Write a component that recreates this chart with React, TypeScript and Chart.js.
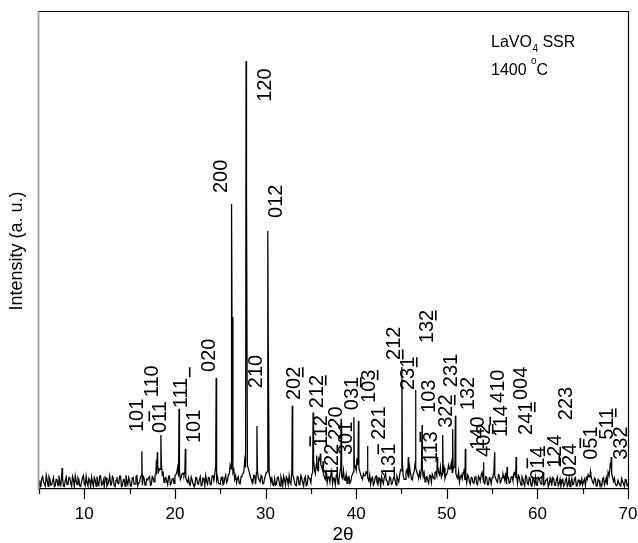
import React, { useEffect, useRef } from 'react';
import { Chart, registerables } from 'chart.js';

Chart.register(...registerables);

// background intensity at 5.0, 5.2, ... 70.0
const noiseStart = 5;
const noiseStep = 0.2;
const noise = [
  1.8, 0.5, 2.6, 1.0, 2.9, 0.6, 2.1, 0.9, 2.4, 0.7,
  1.9, 2.8, 0.8, 2.2, 0.5, 2.5, 1.0, 2.3, 0.6, 1.9,
  2.8, 0.9, 2.0, 0.5, 2.4, 1.1, 2.7, 0.7, 1.8, 2.5,
  0.6, 1.9, 2.6, 0.8, 2.8, 1.0, 0.5, 2.3, 1.0, 2.8,
  0.9, 2.2, 0.5, 2.5, 1.1, 2.7, 0.7, 2.0, 2.9, 0.9,
  1.8, 0.6, 2.4, 1.0, 2.8, 1.3, 2.5, 0.8, 2.2, 1.1,
  1.9, 2.6, 0.9, 2.3, 2.8, 3.1, 3.6, 4.1, 3.0, 1.4,
  2.4, 0.9, 2.7, 1.2, 2.2, 2.8, 3.4, 2.6, 2.0, 3.2,
  2.9, 2.2, 1.4, 0.9, 2.5, 1.1, 0.7, 2.3, 1.0, 2.6,
  0.8, 2.1, 2.8, 1.0, 2.3, 0.9, 2.9, 3.2, 1.8, 1.2,
  1.0, 2.5, 1.1, 2.9, 1.7, 3.1, 4.2, 3.4, 2.0, 1.3,
  2.6, 1.1, 3.0, 3.5, 4.5, 5.0, 3.6, 2.1, 1.3, 2.8,
  3.4, 2.3, 1.5, 2.4, 1.2, 2.9, 3.6, 3.2, 1.4, 0.9,
  2.2, 0.9, 2.5, 0.6, 1.9, 2.7, 0.8, 2.1, 2.8, 1.0,
  3.0, 1.4, 0.7, 2.5, 1.1, 2.2, 0.6, 2.6, 0.9, 2.3,
  1.3, 3.5, 4.0, 5.2, 3.8, 6.0, 4.6, 3.1, 2.0, 1.3,
  2.5, 3.0, 1.1, 2.2, 2.8, 1.0, 3.4, 2.6, 3.9, 1.8,
  1.2, 2.6, 1.5, 3.1, 4.5, 3.9, 5.0, 3.7, 2.4, 3.2,
  2.8, 3.5, 1.7, 1.0, 2.5, 1.3, 2.7, 0.9, 2.2, 2.6,
  1.1, 2.9, 1.8, 0.9, 2.3, 1.2, 2.7, 0.8, 2.1, 2.9,
  3.8, 2.7, 2.0, 4.0, 2.4, 3.3, 1.9, 3.6, 4.4, 3.0,
  3.5, 4.2, 2.6, 1.5, 2.6, 1.2, 2.8, 3.1, 2.1, 3.6,
  4.8, 3.0, 2.5, 3.6, 2.2, 3.1, 5.0, 4.2, 3.5, 4.6,
  3.3, 2.2, 1.4, 2.9, 3.4, 1.9, 1.3, 2.6, 1.0, 2.3,
  1.2, 2.6, 0.9, 2.3, 3.0, 2.2, 1.1, 2.4, 0.9, 2.2,
  2.4, 3.5, 2.2, 1.4, 2.8, 1.6, 3.2, 1.8, 1.0, 2.4,
  1.4, 2.6, 3.3, 2.3, 1.2, 2.5, 0.8, 2.1, 0.7, 2.6,
  0.9, 2.2, 0.6, 1.9, 2.5, 0.8, 2.1, 1.0, 2.7, 0.9,
  1.9, 0.5, 2.3, 1.0, 2.1, 0.7, 2.5, 1.1, 0.6, 2.0,
  0.9, 2.3, 1.0, 0.5, 2.2, 1.0, 2.4, 0.7, 1.9, 1.1,
  0.8, 2.1, 2.4, 3.0, 2.5, 2.0, 1.1, 2.1, 0.7, 1.8,
  1.0, 2.2, 0.9, 2.4, 3.5, 4.0, 3.2, 1.6, 1.1, 0.8,
  1.8, 0.6, 1.6, 0.5, 1.9, 1.0,
];

// intensity at the in-between angles 5.1, 5.3, ... 69.9
const noiseMidStart = 5.1;
const noiseMid = [
  0.4, 2.2, 1.5, 0.6, 1.9, 2.6, 0.8, 1.6, 0.5, 2.0,
  0.7, 1.3, 2.7, 0.6, 1.8, 0.9, 2.4, 1.2, 2.6, 0.5,
  1.7, 2.4, 0.6, 1.5, 2.8, 0.7, 1.3, 2.2, 0.5, 1.4,
  2.4, 0.6, 1.2, 2.7, 0.8, 1.9, 2.5, 0.6, 1.7, 0.8,
  2.6, 0.7, 1.8, 1.2, 2.7, 0.5, 1.9, 0.6, 1.5, 2.4,
  0.6, 2.3, 1.0, 2.6, 0.7, 1.5, 2.9, 2.6, 0.8, 2.1,
  2.4, 0.8, 2.6, 1.5, 3.0, 5.0, 4.2, 5.5, 3.4, 2.2,
  1.6, 2.7, 0.9, 2.1, 1.2, 3.0, 4.5, 3.8, 2.5, 3.3,
  3.8, 1.7, 2.3, 0.8, 1.9, 0.6, 2.4, 1.1, 2.0, 0.7,
  2.3, 0.7, 1.6, 2.4, 0.9, 2.7, 1.8, 4.8, 2.6, 1.1,
  2.4, 0.9, 2.2, 1.3, 3.0, 5.0, 36.0, 4.0, 2.8, 2.2,
  1.2, 2.6, 3.2, 6.0, 62.0, 4.2, 2.8, 1.5, 2.9, 1.0,
  4.0, 1.9, 2.8, 1.1, 2.2, 3.5, 30.0, 2.4, 2.2, 0.7,
  0.8, 2.4, 1.5, 2.6, 0.7, 1.9, 2.5, 0.9, 1.3, 3.8,
  2.4, 0.8, 2.6, 0.9, 2.8, 1.3, 2.2, 0.7, 2.7, 2.1,
  3.0, 6.0, 3.2, 4.4, 6.5, 5.1, 3.9, 2.5, 3.3, 2.6,
  1.4, 3.8, 2.3, 0.9, 3.1, 2.0, 4.5, 2.2, 1.9, 3.0,
  2.5, 1.2, 2.7, 3.6, 4.8, 6.5, 4.4, 3.0, 2.0, 2.8,
  3.6, 2.4, 2.9, 2.2, 0.8, 2.4, 1.4, 2.3, 0.6, 1.7,
  2.4, 1.9, 0.8, 2.5, 1.0, 2.2, 1.8, 2.7, 1.5, 4.0,
  5.5, 2.0, 3.6, 3.1, 4.6, 2.1, 3.2, 5.2, 3.5, 2.2,
  2.6, 4.5, 3.4, 2.4, 1.8, 2.9, 1.4, 2.6, 3.5, 2.8,
  3.5, 4.6, 3.3, 4.4, 2.9, 3.8, 4.2, 5.5, 4.1, 5.2,
  2.6, 3.7, 2.5, 2.1, 4.2, 2.6, 3.0, 1.5, 2.4, 1.3,
  2.5, 1.1, 2.7, 1.6, 3.5, 1.4, 2.6, 0.9, 2.4, 1.1,
  2.8, 2.7, 1.7, 3.0, 1.3, 2.4, 2.6, 3.4, 2.3, 1.2,
  2.5, 1.7, 3.5, 2.8, 2.9, 1.4, 2.6, 1.3, 2.8, 1.1,
  2.4, 0.7, 2.3, 1.0, 0.8, 2.4, 1.6, 2.6, 0.8, 1.8,
  2.2, 1.0, 1.5, 2.4, 0.8, 2.0, 0.7, 2.1, 1.5, 0.6,
  1.9, 0.6, 2.3, 1.5, 0.9, 2.2, 0.6, 1.8, 0.8, 2.1,
  1.6, 0.7, 2.0, 2.6, 2.9, 1.4, 2.3, 0.6, 2.0, 0.9,
  0.6, 2.4, 1.6, 0.8, 2.9, 4.5, 2.4, 2.3, 0.7, 1.8,
  0.8, 2.2, 1.1, 2.0, 0.7,
];

// diffraction peak maxima (2θ, intensity)
const peakTheta = [
  7.55, 16.35, 17.95, 18.05, 18.45, 20.45, 21.15, 24.55, 26.25, 27.85,
  29.05, 30.25, 32.95, 35.25, 35.65, 35.85, 36.05, 36.35, 38.35, 39.75,
  40.25, 41.25, 43.25, 45.05, 45.75, 46.55, 47.28, 48.95, 49.55, 50.65,
  50.95, 52.05, 54.05, 55.28, 56.65, 57.65, 60.65, 65.85, 68.05, 68.15,
];
const peakHeight = [
  4.4, 7.9, 6.0, 7.7, 11.3, 16.8, 8.4, 23.2, 59.6, 89.5,
  13.2, 54.0, 17.4, 16.0, 7.0, 6.2, 7.4, 5.8, 13.8, 15.0,
  14.2, 9.0, 3.5, 25.5, 6.7, 20.7, 13.4, 6.7, 11.3, 12.5,
  15.3, 8.4, 5.6, 7.7, 4.6, 6.7, 3.5, 3.6, 5.5, 6.7,
];

const xMin = 5;
const xMax = 70;
const xTickStep = 5;

// Miller index labels: text, 2θ of label centre, intensity where the text starts
const labelText = [
  '101', '110', '011', '111', '101', '020', '200', '210', '120', '012',
  '202', '212', '112', '122', '220', '301', '031', '103', '221', '131',
  '212', '231', '132', '103', '113', '322', '231', '132', '140', '402',
  '410', '114', '004', '241', '014', '124', '024', '223', '051', '511',
  '332',
];
const labelTheta = [
  15.71, 17.36, 18.25, 20.56, 22.0, 23.65, 24.98, 28.84, 29.83, 31.05,
  33.04, 35.57, 36.0, 37.2, 37.6, 38.77, 39.44, 41.3, 42.4, 43.52,
  44.07, 45.62, 47.72, 47.94, 48.16, 49.81, 50.3, 52.24, 53.34, 54.0,
  55.55, 55.88, 58.09, 58.64, 59.97, 61.84, 63.5, 63.06, 65.82, 67.58,
  69.13,
];
const labelBase = [
  11.9, 19.2, 11.7, 16.9, 9.6, 24.5, 61.9, 21.1, 81.0, 56.7,
  18.6, 16.9, 8.8, 2.5, 10.3, 7.1, 16.5, 18.0, 10.3, 2.5,
  27.0, 20.7, 30.5, 15.9, 5.4, 12.8, 21.3, 16.5, 8.2, 6.7,
  18.0, 10.9, 18.6, 11.3, 1.9, 4.4, 2.5, 14.4, 6.1, 10.3,
  6.1,
];
// bar over/under one digit: index of digit (-1 none), 'o' overline, 'u' underline
const labelBarIdx = [
  -1, -1, 1, 3, -1, -1, -1, -1, -1, -1,
  2, 2, 0, -1, -1, -1, 2, 2, -1, 2,
  0, 2, 2, -1, 2, 2, -1, -1, -1, 2,
  -1, 1, -1, 2, 1, 1, 1, -1, 1, 2,
  -1,
];
const labelBarType = [
  '', '', 'o', 'u', '', '', '', '', '', '',
  'u', 'u', 'o', '', '', '', 'u', 'u', '', 'o',
  'u', 'u', 'u', '', 'o', 'u', '', '', '', 'u',
  '', 'o', '', 'u', 'o', 'o', 'o', '', 'o', 'u',
  '',
];

const FONT = '"Liberation Sans", Arial, sans-serif';

const framePlugin = {
  id: 'frame',
  afterDraw(chart: any) {
    const { ctx, chartArea: a, scales } = chart;
    const x = scales.x;
    const y = scales.y;
    ctx.save();
    // left axis (grey)
    ctx.strokeStyle = '#a8a8a8';
    ctx.lineWidth = 2;
    ctx.beginPath();
    ctx.moveTo(a.left - 0.5, a.top);
    ctx.lineTo(a.left - 0.5, a.bottom);
    ctx.stroke();
    // top and right border
    ctx.strokeStyle = '#000';
    ctx.lineWidth = 1.2;
    ctx.beginPath();
    ctx.moveTo(a.left, a.top + 0.5);
    ctx.lineTo(a.right + 0.5, a.top + 0.5);
    ctx.lineTo(a.right + 0.5, a.bottom);
    ctx.stroke();
    // tick marks
    ctx.lineWidth = 1.2;
    for (let v = xMin; v <= xMax + 1e-9; v += xTickStep) {
      const px = Math.round(x.getPixelForValue(v)) + 0.5;
      const len = v % 10 === 0 ? 10 : 5;
      ctx.beginPath();
      ctx.moveTo(px, a.bottom);
      ctx.lineTo(px, a.bottom + len);
      ctx.stroke();
    }
    // peak labels
    ctx.fillStyle = '#000';
    ctx.font = '20px ' + FONT;
    ctx.textAlign = 'left';
    ctx.textBaseline = 'alphabetic';
    for (let i = 0; i < labelText.length; i++) {
      const t = labelText[i];
      const cx = x.getPixelForValue(labelTheta[i]);
      const by = y.getPixelForValue(labelBase[i]);
      ctx.save();
      ctx.translate(cx + 7.2, by);
      ctx.rotate(-Math.PI / 2);
      ctx.fillText(t, 0, 0);
      const bi = labelBarIdx[i];
      if (bi >= 0) {
        const x0 = ctx.measureText(t.slice(0, bi)).width;
        const x1 = bi < t.length ? ctx.measureText(t.slice(0, bi + 1)).width : x0 + 11;
        const yy = labelBarType[i] === 'o' ? -17 : 2.5;
        ctx.fillRect(x0 + 0.5, yy - 0.8, x1 - x0 - 1, 1.6);
      }
      ctx.restore();
    }
    // axis titles
    ctx.font = '19px ' + FONT;
    ctx.textAlign = 'center';
    ctx.fillText('2θ', 343, 540);
    ctx.save();
    ctx.translate(22, 251);
    ctx.rotate(-Math.PI / 2);
    ctx.font = '18px ' + FONT;
    ctx.fillText('Intensity (a. u.)', 0, 0);
    ctx.restore();
    // annotation
    ctx.textAlign = 'left';
    ctx.font = '16px ' + FONT;
    let ax = 491;
    ctx.fillText('LaVO', ax, 47);
    ax += ctx.measureText('LaVO').width + 0.5;
    ctx.font = '10px ' + FONT;
    ctx.fillText('4', ax, 52);
    ax += ctx.measureText('4').width;
    ctx.font = '16px ' + FONT;
    ctx.fillText(' SSR', ax, 47);
    ax = 491;
    ctx.fillText('1400 ', ax, 75);
    ax += ctx.measureText('1400 ').width;
    ctx.font = '10px ' + FONT;
    ctx.fillText('o', ax, 64);
    ax += ctx.measureText('o').width;
    ctx.font = '16px ' + FONT;
    ctx.fillText('C', ax, 75);
    ctx.restore();
  },
};

export default function App() {
  const ref = useRef<HTMLCanvasElement>(null);
  useEffect(() => {
    const canvas = ref.current;
    if (!canvas) return;
    const pts: { x: number; y: number }[] = [];
    noise.forEach((v, i) => pts.push({ x: noiseStart + i * noiseStep, y: v }));
    noiseMid.forEach((v, i) => pts.push({ x: noiseMidStart + i * noiseStep, y: v }));
    peakTheta.forEach((t, i) => pts.push({ x: t, y: peakHeight[i] }));
    pts.sort((p, q) => p.x - q.x);
    const chart = new Chart(canvas, {
      type: 'line',
      data: {
        datasets: [
          {
            data: pts,
            borderColor: '#000',
            borderWidth: 1.25,
            pointRadius: 0,
            tension: 0,
            fill: false,
          },
        ],
      },
      options: {
        animation: false,
        responsive: false,
        maintainAspectRatio: false,
        devicePixelRatio: 1,
        layout: { padding: { left: 39, right: 0, top: 11, bottom: 0 } },
        plugins: { legend: { display: false }, tooltip: { enabled: false } },
        scales: {
          x: {
            type: 'linear',
            min: xMin,
            max: xMax,
            afterFit: (s: any) => {
              s.height = 54;
              s.paddingLeft = 0;
              s.paddingRight = 10;
            },
            ticks: {
              stepSize: xTickStep,
              autoSkip: false,
              maxRotation: 0,
              padding: 15,
              color: '#000',
              font: { family: FONT, size: 17 },
              callback: (v: any) => (Number(v) % 10 === 0 ? String(v) : ''),
            },
            grid: { drawOnChartArea: false, drawTicks: false },
            border: { display: true, color: '#000', width: 1.2 },
          },
          y: { display: false, min: 0, max: 100 },
        },
      },
      plugins: [framePlugin],
    } as any);
    return () => chart.destroy();
  }, []);
  return (
    <div style={{ position: 'absolute', left: 0, top: 0, width: 638, height: 543, background: '#fff' }}>
      <canvas ref={ref} width={638} height={543} style={{ width: 638, height: 543 }} />
    </div>
  );
}
